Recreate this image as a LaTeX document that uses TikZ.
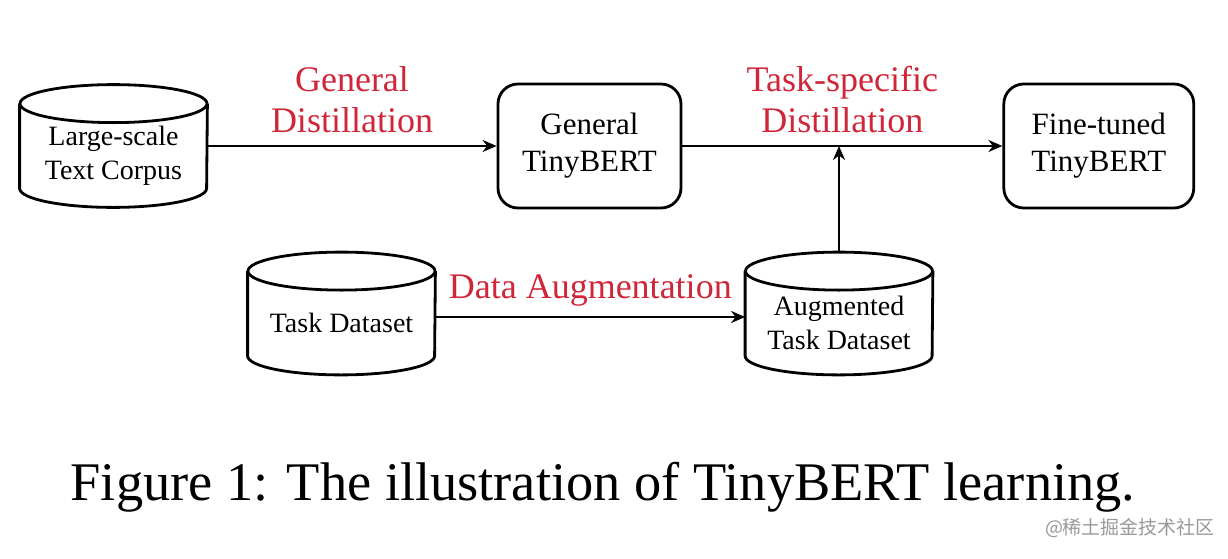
\documentclass[tikz,border=0pt]{standalone}
\usepackage{fontspec}
\setmainfont{Liberation Serif}
\newfontfamily\cjk{Noto Sans CJK SC}
\usetikzlibrary{arrows.meta,positioning}
\definecolor{lblred}{RGB}{208,38,58}

\begin{document}
\begin{tikzpicture}[
  x=0.5pt, y=-0.5pt,
  box/.style={draw, line width=1.4pt, rounded corners=10pt, align=center, minimum width=91.5pt, minimum height=62pt, inner sep=2pt, font=\fontsize{15.5}{18.5}\selectfont},
  db/.style={align=center, minimum width=93.5pt, minimum height=51.5pt, inner sep=0pt, font=\fontsize{14}{17}\selectfont},
  dbline/.style={line width=1.4pt},
  arr/.style={-{Stealth[length=7pt, width=6pt]}, line width=1.2pt},
  lbl/.style={text=lblred, font=\fontsize{18}{20.5}\selectfont, align=center},
  node distance=160pt
]
\useasboundingbox (0,0) rectangle (1228,558);
% nodes (cylinder nodes are the body below the top ellipse)
\node[db] (corpus) at (113.5,155.5) {Large-scale\\Text Corpus};
\node[box] (general) at (589.5,146) {General\\TinyBERT};
\node[box, right=of general, minimum width=95pt] (fine) {Fine-tuned\\TinyBERT};
\node[db] (task) at (341.5,323) {Task Dataset};
\node[db] (aug) at (839,323) {Augmented\\Task Dataset};
% cylinder outlines
\foreach \n in {corpus,task,aug}{
  \draw[dbline] (\n.north) ellipse [x radius=46.75pt, y radius=9.5pt];
  \draw[dbline] (\n.north west) -- ([yshift=9.5pt]\n.south west)
    arc [start angle=180, end angle=360, x radius=46.75pt, y radius=9.5pt]
    -- (\n.north east);
}
% connectors
\draw[arr] ([yshift=4.75pt]corpus.east) -- node[lbl, above=2.5pt]{General\\Distillation} (general.west);
\draw[arr] (general) -- node[lbl, above=2.5pt]{Task-specific\\Distillation} (fine);
\draw[arr] ([yshift=3pt]task.east) -- node[lbl, above=1.5pt]{Data Augmentation} ([yshift=3pt]aug.west);
\draw[arr] ([yshift=9.5pt]aug.north) -- (aug.north |- general.east);
% caption
\node[font=\fontsize{27.2}{32}\selectfont] (caption) at (603,487) {Figure 1: The illustration of TinyBERT learning.};
\node[text=black!40, font=\cjk\fontsize{9.5}{11}\selectfont] (mark) at (1130,528) {@稀土掘金技术社区};
\end{tikzpicture}
\end{document}
